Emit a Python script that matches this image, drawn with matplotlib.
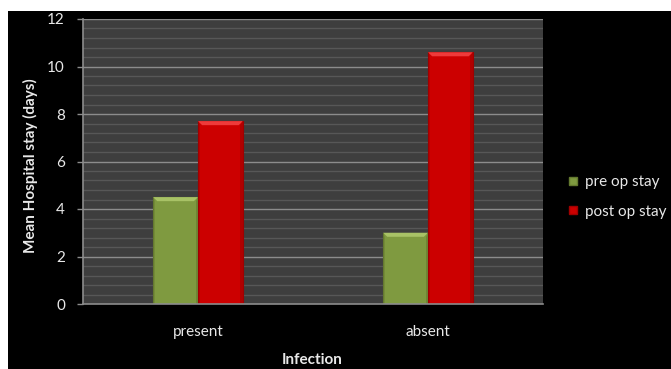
import matplotlib
matplotlib.use("Agg")
import matplotlib.pyplot as plt
import numpy as np
from matplotlib.patches import Rectangle, Polygon
from matplotlib.lines import Line2D

plt.rcParams['font.family'] = ['Lato', 'DejaVu Sans']

categories = ["present", "absent"]
series_names = ["pre op stay", "post op stay"]
pre_op = [4.5, 3.0]
post_op = [7.7, 10.6]
y_ticks = [0, 2, 4, 6, 8, 10, 12]

colors = ["#7f9a40", "#cc0000"]
light = ["#a8c266", "#ee3a3a"]
dark = ["#64792f", "#a00000"]
text_col = "#e8e8e8"

W, H = 671, 369
fig = plt.figure(figsize=(W / 100, H / 100), dpi=100)
fig.patch.set_facecolor("white")
fig.add_artist(Rectangle((8 / W, 0), 1 - 8 / W, (H - 11) / H,
                         transform=fig.transFigure, facecolor="black",
                         edgecolor="none", zorder=0))

ax = fig.add_axes([83 / W, 1 - 304 / H, (543 - 83) / W, (304 - 19) / H])
ax.set_facecolor("#3e3e3e")

ax.set_xlim(-0.5, 1.5)
ax.set_ylim(0, 12)

# striped background: minor and major horizontal lines
for yv in np.arange(0.4, 12, 0.4):
    if abs(yv / 2 - round(yv / 2)) < 1e-6:
        continue
    ax.axhline(yv, color="#575757", lw=1.0, zorder=1)
for yv in y_ticks[1:]:
    ax.axhline(yv, color="#8c8c8c", lw=1.0, zorder=1)

x = np.arange(len(categories))
bw = 0.195
bevel_x = 0.018
bevel_y = 0.17


def bevel_bar(xc, h, i):
    xl = xc - bw / 2
    ax.bar(xc, h, width=bw, color=colors[i], edgecolor=dark[i], lw=0.8, zorder=3)
    # lighter top bevel
    ax.add_patch(Polygon([(xl, h), (xl + bw, h), (xl + bw - bevel_x, h - bevel_y),
                          (xl + bevel_x, h - bevel_y)], closed=True,
                         facecolor=light[i], edgecolor="none", zorder=4))
    # darker side bevels
    ax.add_patch(Polygon([(xl + bw, h), (xl + bw, 0), (xl + bw - bevel_x * 0.6, 0),
                          (xl + bw - bevel_x * 0.6, h - bevel_y)], closed=True,
                         facecolor=dark[i], edgecolor="none", alpha=0.6, zorder=4))
    ax.add_patch(Polygon([(xl, h), (xl, 0), (xl + bevel_x * 0.5, 0),
                          (xl + bevel_x * 0.5, h - bevel_y)], closed=True,
                         facecolor=dark[i], edgecolor="none", alpha=0.4, zorder=4))


for j in range(len(categories)):
    bevel_bar(x[j] - bw / 2, pre_op[j], 0)
    bevel_bar(x[j] + bw / 2, post_op[j], 1)

for s in ["top", "right"]:
    ax.spines[s].set_visible(False)
for s in ["left", "bottom"]:
    ax.spines[s].set_color("#8c8c8c")
    ax.spines[s].set_linewidth(1.2)
    ax.spines[s].set_zorder(5)

ax.set_yticks(y_ticks)
ax.set_xticks(x)
ax.set_xticklabels(categories)
ax.tick_params(axis="y", colors="#8c8c8c", labelcolor=text_col, length=4,
               width=1, pad=9, labelsize=11)
ax.tick_params(axis="x", length=0, pad=15, labelcolor=text_col, labelsize=11)

fig.text(30 / W, 1 - 166 / H, "Mean Hospital stay (days)", color=text_col,
         fontsize=11, fontweight="bold", rotation=90, ha="center", va="center")
fig.text(312 / W, 1 - 360 / H, "Infection", color=text_col, fontsize=11,
         fontweight="bold", ha="center", va="center")

handles = [Line2D([], [], ls="none", marker="s", markersize=6,
                  markerfacecolor=colors[i], markeredgecolor=dark[i])
           for i in range(2)]
leg = fig.legend(handles, series_names, loc="center left",
                 bbox_to_anchor=(561 / W, 1 - 197 / H), frameon=False,
                 fontsize=11, labelspacing=1.0, handlelength=0.8,
                 handletextpad=0.4, borderaxespad=0)
for t in leg.get_texts():
    t.set_color(text_col)

fig.savefig("out.png", dpi=100, facecolor=fig.get_facecolor())
